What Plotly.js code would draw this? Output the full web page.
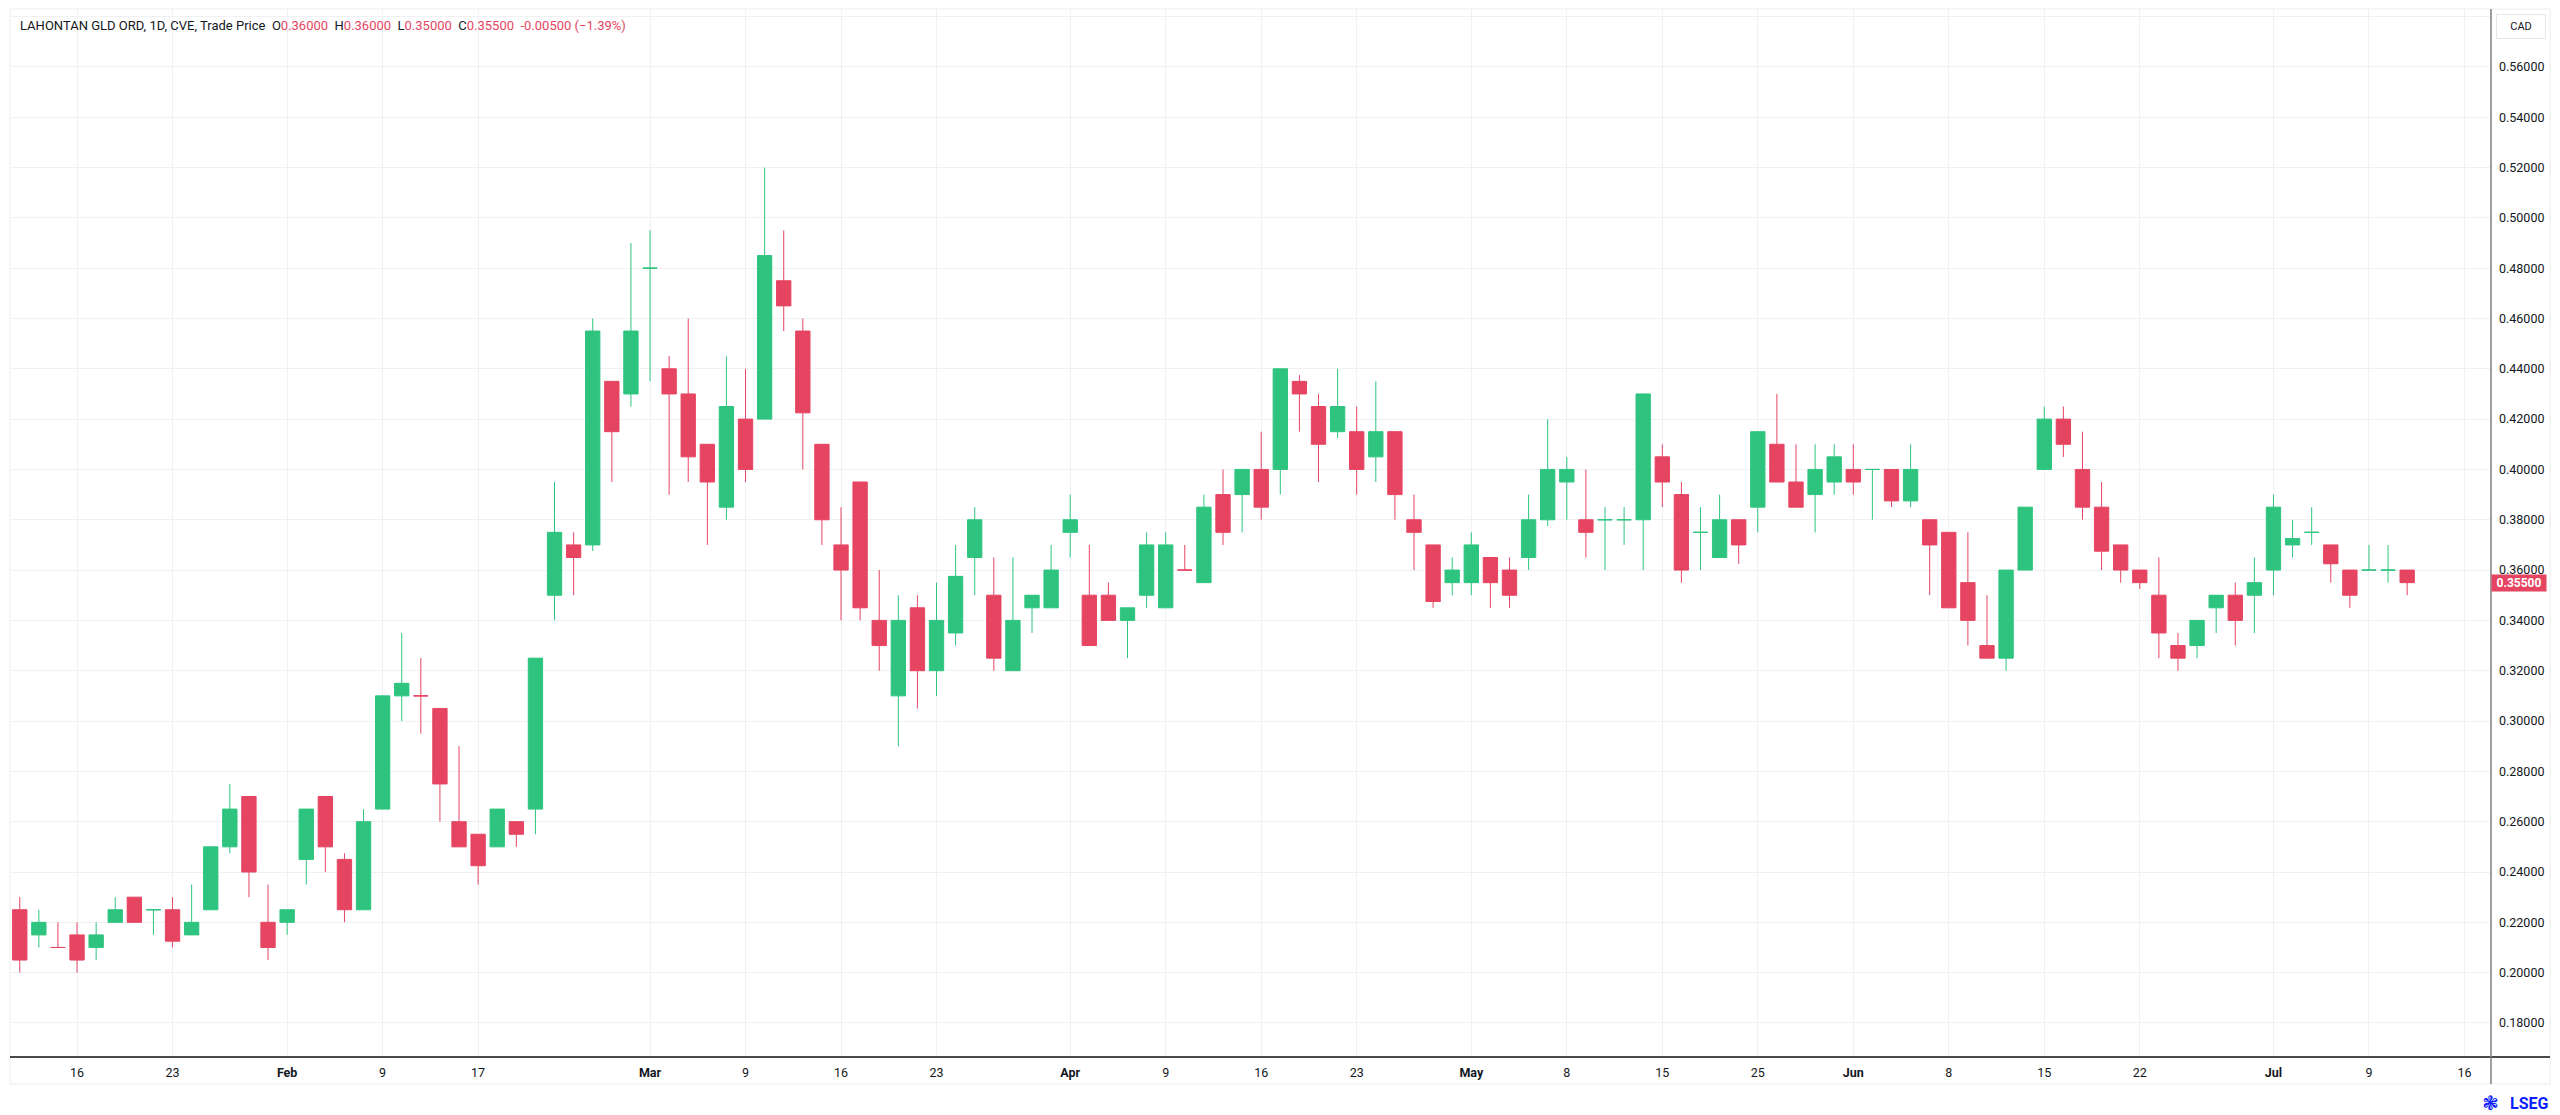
<!DOCTYPE html>
<html>
<head>
<meta charset="utf-8">
<script src="https://cdn.plot.ly/plotly-3.0.1.min.js"></script>
<style>
  html, body { margin: 0; padding: 0; background: #ffffff; }
  #chart { width: 2560px; height: 1115px; }
</style>
</head>
<body>
<div id="chart"></div>
<script>
// daily bars, TSXV
const dates = [
  '2026-01-13', '2026-01-14', '2026-01-15', '2026-01-16', '2026-01-19', '2026-01-20', '2026-01-21', '2026-01-22', '2026-01-23',
  '2026-01-26', '2026-01-27', '2026-01-28', '2026-01-29', '2026-01-30',
  '2026-02-02', '2026-02-03', '2026-02-04', '2026-02-05', '2026-02-06',
  '2026-02-09', '2026-02-10', '2026-02-11', '2026-02-12', '2026-02-13',
  '2026-02-17', '2026-02-18', '2026-02-19', '2026-02-20',
  '2026-02-23', '2026-02-24', '2026-02-25', '2026-02-26', '2026-02-27',
  '2026-03-02', '2026-03-03', '2026-03-04', '2026-03-05', '2026-03-06',
  '2026-03-09', '2026-03-10', '2026-03-11', '2026-03-12', '2026-03-13',
  '2026-03-16', '2026-03-17', '2026-03-18', '2026-03-19', '2026-03-20',
  '2026-03-23', '2026-03-24', '2026-03-25', '2026-03-26', '2026-03-27',
  '2026-03-30', '2026-03-31', '2026-04-01', '2026-04-02',
  '2026-04-06', '2026-04-07', '2026-04-08', '2026-04-09', '2026-04-10',
  '2026-04-13', '2026-04-14', '2026-04-15', '2026-04-16', '2026-04-17',
  '2026-04-20', '2026-04-21', '2026-04-22', '2026-04-23', '2026-04-24',
  '2026-04-27', '2026-04-28', '2026-04-29', '2026-04-30', '2026-05-01',
  '2026-05-04', '2026-05-05', '2026-05-06', '2026-05-07', '2026-05-08',
  '2026-05-11', '2026-05-12', '2026-05-13', '2026-05-14', '2026-05-15',
  '2026-05-19', '2026-05-20', '2026-05-21', '2026-05-22',
  '2026-05-25', '2026-05-26', '2026-05-27', '2026-05-28', '2026-05-29',
  '2026-06-01', '2026-06-02', '2026-06-03', '2026-06-04', '2026-06-05',
  '2026-06-08', '2026-06-09', '2026-06-10', '2026-06-11', '2026-06-12',
  '2026-06-15', '2026-06-16', '2026-06-17', '2026-06-18', '2026-06-19',
  '2026-06-22', '2026-06-23', '2026-06-24', '2026-06-25', '2026-06-26',
  '2026-06-29', '2026-06-30', '2026-07-02', '2026-07-03',
  '2026-07-06', '2026-07-07', '2026-07-08', '2026-07-09', '2026-07-10',
  '2026-07-13'
];
const opens = [
  0.225, 0.215, 0.21, 0.215, 0.21, 0.22, 0.23, 0.225, 0.225,
  0.215, 0.225, 0.25, 0.27, 0.22,
  0.22, 0.245, 0.27, 0.245, 0.225,
  0.265, 0.31, 0.31, 0.305, 0.26,
  0.255, 0.25, 0.26, 0.265,
  0.35, 0.37, 0.37, 0.435, 0.43,
  0.48, 0.44, 0.43, 0.41, 0.385,
  0.42, 0.42, 0.475, 0.455, 0.41,
  0.37, 0.395, 0.34, 0.31, 0.345,
  0.32, 0.335, 0.365, 0.35, 0.32,
  0.345, 0.345, 0.375, 0.35,
  0.35, 0.34, 0.35, 0.345, 0.36,
  0.355, 0.39, 0.39, 0.40, 0.40,
  0.435, 0.425, 0.415, 0.415, 0.405,
  0.415, 0.38, 0.37, 0.355, 0.355,
  0.365, 0.36, 0.365, 0.38, 0.395,
  0.38, 0.38, 0.38, 0.38, 0.405,
  0.39, 0.375, 0.365, 0.38,
  0.385, 0.41, 0.395, 0.39, 0.395,
  0.40, 0.40, 0.40, 0.3875, 0.38,
  0.375, 0.355, 0.33, 0.325, 0.36,
  0.40, 0.42, 0.40, 0.385, 0.37,
  0.36, 0.35, 0.33, 0.33, 0.345,
  0.35, 0.35, 0.36, 0.37,
  0.375, 0.37, 0.36, 0.36, 0.36,
  0.36
];
const highs = [
  0.23, 0.225, 0.22, 0.22, 0.22, 0.23, 0.23, 0.225, 0.23,
  0.235, 0.25, 0.275, 0.27, 0.235,
  0.225, 0.265, 0.27, 0.2475, 0.265,
  0.31, 0.335, 0.325, 0.305, 0.29,
  0.255, 0.265, 0.26, 0.325,
  0.395, 0.375, 0.46, 0.435, 0.49,
  0.495, 0.445, 0.46, 0.41, 0.445,
  0.44, 0.52, 0.495, 0.46, 0.41,
  0.385, 0.395, 0.36, 0.35, 0.35,
  0.355, 0.37, 0.385, 0.365, 0.365,
  0.35, 0.37, 0.39, 0.37,
  0.355, 0.345, 0.375, 0.375, 0.37,
  0.39, 0.40, 0.40, 0.415, 0.44,
  0.4375, 0.43, 0.44, 0.425, 0.435,
  0.415, 0.39, 0.37, 0.365, 0.375,
  0.365, 0.365, 0.39, 0.42, 0.405,
  0.40, 0.385, 0.385, 0.43, 0.41,
  0.395, 0.385, 0.39, 0.38,
  0.415, 0.43, 0.41, 0.41, 0.41,
  0.41, 0.40, 0.40, 0.41, 0.38,
  0.375, 0.375, 0.35, 0.36, 0.385,
  0.425, 0.425, 0.415, 0.395, 0.37,
  0.36, 0.365, 0.335, 0.34, 0.35,
  0.355, 0.365, 0.39, 0.38,
  0.385, 0.37, 0.36, 0.37, 0.37,
  0.36
];
const lows = [
  0.20, 0.21, 0.21, 0.20, 0.205, 0.22, 0.22, 0.215, 0.21,
  0.215, 0.225, 0.2475, 0.23, 0.205,
  0.215, 0.235, 0.24, 0.22, 0.225,
  0.265, 0.30, 0.295, 0.26, 0.25,
  0.235, 0.25, 0.25, 0.255,
  0.34, 0.35, 0.3675, 0.395, 0.425,
  0.435, 0.39, 0.395, 0.37, 0.38,
  0.395, 0.42, 0.455, 0.40, 0.37,
  0.34, 0.34, 0.32, 0.29, 0.305,
  0.31, 0.33, 0.35, 0.32, 0.32,
  0.335, 0.345, 0.365, 0.33,
  0.34, 0.325, 0.345, 0.345, 0.36,
  0.355, 0.37, 0.375, 0.38, 0.39,
  0.415, 0.395, 0.4125, 0.39, 0.395,
  0.38, 0.36, 0.345, 0.35, 0.35,
  0.345, 0.345, 0.36, 0.3775, 0.38,
  0.365, 0.36, 0.37, 0.36, 0.385,
  0.355, 0.36, 0.365, 0.3625,
  0.375, 0.395, 0.385, 0.375, 0.39,
  0.39, 0.38, 0.385, 0.385, 0.35,
  0.345, 0.33, 0.325, 0.32, 0.36,
  0.40, 0.405, 0.38, 0.36, 0.355,
  0.3525, 0.325, 0.32, 0.325, 0.335,
  0.33, 0.335, 0.35, 0.365,
  0.37, 0.355, 0.345, 0.36, 0.355,
  0.35
];
const closes = [
  0.205, 0.22, 0.21, 0.205, 0.215, 0.225, 0.22, 0.225, 0.2125,
  0.22, 0.25, 0.265, 0.24, 0.21,
  0.225, 0.265, 0.25, 0.225, 0.26,
  0.31, 0.315, 0.31, 0.275, 0.25,
  0.2425, 0.265, 0.255, 0.325,
  0.375, 0.365, 0.455, 0.415, 0.455,
  0.48, 0.43, 0.405, 0.395, 0.425,
  0.40, 0.485, 0.465, 0.4225, 0.38,
  0.36, 0.345, 0.33, 0.34, 0.32,
  0.34, 0.3575, 0.38, 0.325, 0.34,
  0.35, 0.36, 0.38, 0.33,
  0.34, 0.345, 0.37, 0.37, 0.36,
  0.385, 0.375, 0.40, 0.385, 0.44,
  0.43, 0.41, 0.425, 0.40, 0.415,
  0.39, 0.375, 0.3475, 0.36, 0.37,
  0.355, 0.35, 0.38, 0.40, 0.40,
  0.375, 0.38, 0.38, 0.43, 0.395,
  0.36, 0.375, 0.38, 0.37,
  0.415, 0.395, 0.385, 0.40, 0.405,
  0.395, 0.40, 0.3875, 0.40, 0.37,
  0.345, 0.34, 0.325, 0.36, 0.385,
  0.42, 0.41, 0.385, 0.3675, 0.36,
  0.355, 0.335, 0.325, 0.34, 0.35,
  0.34, 0.355, 0.385, 0.3725,
  0.375, 0.3625, 0.35, 0.36, 0.36,
  0.355
];

// exchange holidays, skipped by the date axis
const holidays = ['2026-02-16', '2026-04-03', '2026-05-18', '2026-07-01'];

const tickDates = [
  '2026-01-16', '2026-01-23', '2026-02-02', '2026-02-09', '2026-02-17',
  '2026-03-02', '2026-03-09', '2026-03-16', '2026-03-23',
  '2026-04-01', '2026-04-09', '2026-04-16', '2026-04-23',
  '2026-05-01', '2026-05-08', '2026-05-15', '2026-05-25',
  '2026-06-01', '2026-06-08', '2026-06-15', '2026-06-22',
  '2026-07-02', '2026-07-09', '2026-07-16'
];
const tickText = [
  '16', '23', '<b>Feb</b>', '9', '17',
  '<b>Mar</b>', '9', '16', '23',
  '<b>Apr</b>', '9', '16', '23',
  '<b>May</b>', '8', '15', '25',
  '<b>Jun</b>', '8', '15', '22',
  '<b>Jul</b>', '9', '16'
];
const priceTicks = [0.18, 0.20, 0.22, 0.24, 0.26, 0.28, 0.30, 0.32, 0.34, 0.36, 0.38,
  0.40, 0.42, 0.44, 0.46, 0.48, 0.50, 0.52, 0.54, 0.56, 0.58];

const GREEN = '#2ec47f';
const RED = '#e64562';
const TEXT = '#131722';
const GRID = '#f0f1f3';
const FONT = 'Roboto, "Liberation Sans", sans-serif';

const last = closes.length - 1;
const change = closes[last] - closes[last - 1];
const pct = change / closes[last - 1] * 100;

function red(s) {
  return '<span style="color:' + RED + '">' + s + '</span>';
}
const gap = '&nbsp;&nbsp;';
const header = 'LAHONTAN GLD ORD, 1D, CVE, Trade Price' +
  gap + 'O' + red(opens[last].toFixed(5)) +
  gap + 'H' + red(highs[last].toFixed(5)) +
  gap + 'L' + red(lows[last].toFixed(5)) +
  gap + 'C' + red(closes[last].toFixed(5)) +
  gap + red(change.toFixed(5) + ' (' + pct.toFixed(2).replace('-', '\u2212') + '%)');

var data = [{
  type: 'candlestick',
  x: dates,
  xperiod: 86400000,
  xperiodalignment: 'middle',
  open: opens,
  high: highs,
  low: lows,
  close: closes,
  whiskerwidth: 0,
  increasing: { line: { color: GREEN, width: 1 }, fillcolor: GREEN },
  decreasing: { line: { color: RED, width: 1 }, fillcolor: RED },
  hoverinfo: 'none',
}];

var layout = {
  width: 2560,
  height: 1115,
  showlegend: false,
  paper_bgcolor: '#ffffff',
  plot_bgcolor: '#ffffff',
  font: { family: FONT, size: 12, color: TEXT },
  margin: { l: 10, r: 69, t: 9, b: 58 },
  boxgap: 0.25,
  boxgroupgap: 0,
  xaxis: {
    type: 'date',
    range: ['2026-01-12 23:45', '2026-07-17 21:20'],
    rangeslider: { visible: false },
    rangebreaks: [
      { bounds: ['sat', 'mon'] },
      { values: holidays },
    ],
    tickmode: 'array',
    tickvals: tickDates.map(d => d + ' 12:00'),
    ticktext: tickText,
    ticks: '',
    ticklabelstandoff: 6,
    tickfont: { family: FONT, size: 12.5, color: TEXT },
    showgrid: true,
    gridcolor: GRID,
    gridwidth: 1,
    showline: false,
    zeroline: false,
    fixedrange: true,
  },
  yaxis: {
    side: 'right',
    range: [0.16647, 0.583],
    tickmode: 'array',
    tickvals: priceTicks,
    ticktext: priceTicks.map(v => v >= 0.58 ? '' : v.toFixed(5)),
    ticks: '',
    ticklabelstandoff: 7,
    tickfont: { family: FONT, size: 12.5, color: TEXT },
    showgrid: true,
    gridcolor: GRID,
    gridwidth: 1,
    showline: false,
    zeroline: false,
    fixedrange: true,
  },
  shapes: [
    // outer frame
    { type: 'rect', xref: 'paper', yref: 'paper', x0: 0, x1: 1.0238, y0: -0.0258, y1: 1.0,
      line: { color: '#ececec', width: 1 }, layer: 'below' },
    // time axis line
    { type: 'line', xref: 'paper', yref: 'paper', x0: 0, x1: 1.0238, y0: 0, y1: 0,
      line: { color: '#4a4a4a', width: 2 } },
    // price axis line
    { type: 'line', xref: 'paper', yref: 'paper', x0: 1, x1: 1, y0: -0.0258, y1: 1.0,
      line: { color: '#808080', width: 1.5 } },
  ],
  annotations: [
    { xref: 'paper', yref: 'paper', x: 0.0032, y: 0.9847, xanchor: 'left', yanchor: 'middle',
      text: header, showarrow: false, font: { family: FONT, size: 13, color: TEXT } },
    { xref: 'paper', yref: 'paper', x: 1.0121, y: 0.9833, xanchor: 'center', yanchor: 'middle',
      text: 'CAD', showarrow: false, font: { family: FONT, size: 11, color: TEXT },
      bordercolor: '#e6e6e6', borderwidth: 1, borderpad: 5, bgcolor: '#ffffff', width: 38 },
    { xref: 'paper', yref: 'y', x: 1, y: closes[last], xanchor: 'left', yanchor: 'middle',
      text: '<b>' + closes[last].toFixed(5) + '</b>', showarrow: false,
      font: { family: FONT, size: 12, color: '#ffffff' },
      bgcolor: RED, borderpad: 1, width: 52, height: 14 },
    { xref: 'paper', yref: 'paper', x: 1.0157, y: -0.0439, xanchor: 'center', yanchor: 'middle',
      text: '<b>LSEG</b>', showarrow: false, font: { family: FONT, size: 16, color: '#0a1fff' } },
    { xref: 'paper', yref: 'paper', x: 0.9996, y: -0.0439, xanchor: 'center', yanchor: 'middle',
      text: '\u2743', showarrow: false, font: { family: 'DejaVu Sans', size: 20, color: '#0a1fff' } },
  ],
};

Plotly.newPlot('chart', data, layout, { displayModeBar: false, staticPlot: true });
</script>
</body>
</html>
